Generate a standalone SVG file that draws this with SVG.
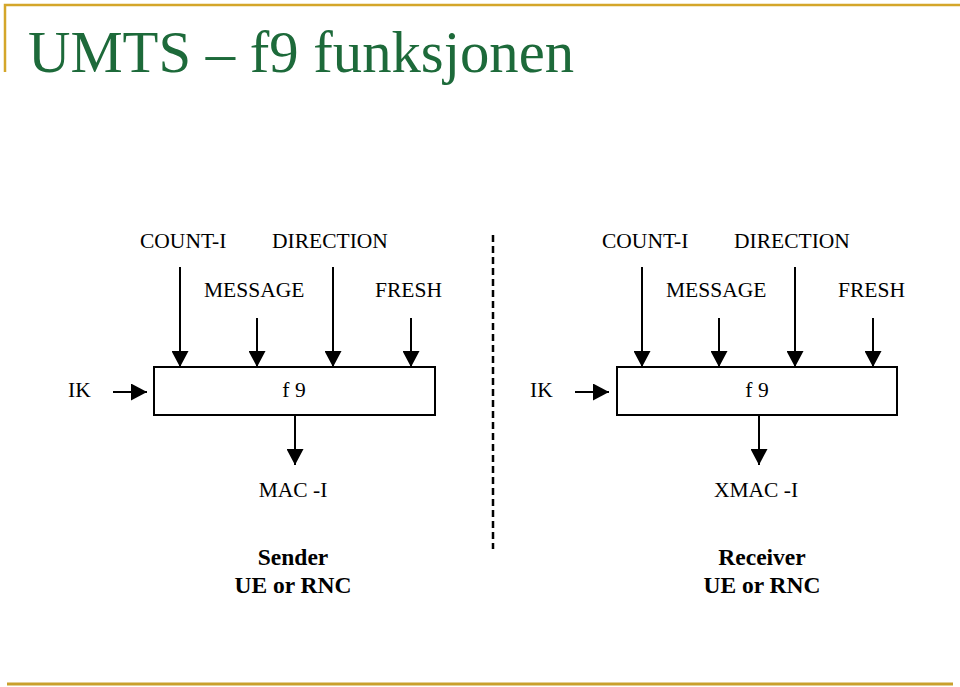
<svg xmlns="http://www.w3.org/2000/svg" width="960" height="687" viewBox="0 0 960 687">
<style>
.t{font-family:"Liberation Serif","Times New Roman",serif;font-size:21.5px;fill:#000}
.b{font-family:"Liberation Serif","Times New Roman",serif;font-size:23.5px;font-weight:bold;fill:#000}
.c{text-anchor:middle}
.ln{stroke:#000;stroke-width:2;fill:none}
.box{fill:#fff;stroke:#000;stroke-width:2}
</style>
<defs>
<marker id="ah" viewBox="0 0 16 17" refX="16" refY="8.5" markerWidth="16" markerHeight="17" markerUnits="userSpaceOnUse" orient="auto"><path d="M0,0L16,8.5L0,17z" fill="#000"/></marker>
</defs>
<rect width="960" height="687" fill="#fff"/>
<g id="frame">
<path d="M5,72V5H960" fill="none" stroke="#d4a62a" stroke-width="2.5"/>
<line x1="7" y1="684" x2="953" y2="684" stroke="#c9a02c" stroke-width="3"/>
</g>
<text id="title" x="28" y="72" font-family="Liberation Serif,Times New Roman,serif" font-size="58.7" fill="#1d6a3a">UMTS – f9 funksjonen</text>
<line id="divider" x1="493" y1="235" x2="493" y2="549" stroke="#000" stroke-width="2.5" stroke-dasharray="7,4"/>
<g id="connectors">
<line class="ln" x1="180" y1="267" x2="180" y2="367" marker-end="url(#ah)"/>
<line class="ln" x1="257" y1="318" x2="257" y2="367" marker-end="url(#ah)"/>
<line class="ln" x1="333" y1="267" x2="333" y2="367" marker-end="url(#ah)"/>
<line class="ln" x1="411" y1="318" x2="411" y2="367" marker-end="url(#ah)"/>
<line class="ln" x1="113" y1="392" x2="147" y2="392" marker-end="url(#ah)"/>
<line class="ln" x1="295" y1="415" x2="295" y2="465" marker-end="url(#ah)"/>
<line class="ln" x1="642" y1="267" x2="642" y2="367" marker-end="url(#ah)"/>
<line class="ln" x1="719" y1="318" x2="719" y2="367" marker-end="url(#ah)"/>
<line class="ln" x1="795" y1="267" x2="795" y2="367" marker-end="url(#ah)"/>
<line class="ln" x1="873" y1="318" x2="873" y2="367" marker-end="url(#ah)"/>
<line class="ln" x1="575" y1="392" x2="609" y2="392" marker-end="url(#ah)"/>
<line class="ln" x1="759" y1="415" x2="759" y2="465" marker-end="url(#ah)"/>
</g>
<g id="sender">
<text class="t" x="140" y="248">COUNT-I</text>
<text class="t" x="272" y="248">DIRECTION</text>
<text class="t" x="204" y="297">MESSAGE</text>
<text class="t" x="375" y="297">FRESH</text>
<text class="t" x="68" y="397">IK</text>
<g id="f9-sender"><rect class="box" x="154" y="367" width="281" height="48"/><text class="t c" x="294" y="397">f 9</text></g>
<text class="t c" x="293" y="497">MAC -I</text>
<text class="b c" x="293" y="565">Sender</text>
<text class="b c" x="293" y="593">UE or RNC</text>
</g>
<g id="receiver">
<text class="t" x="602" y="248">COUNT-I</text>
<text class="t" x="734" y="248">DIRECTION</text>
<text class="t" x="666" y="297">MESSAGE</text>
<text class="t" x="838" y="297">FRESH</text>
<text class="t" x="530" y="397">IK</text>
<g id="f9-receiver"><rect class="box" x="617" y="367" width="280" height="48"/><text class="t c" x="757" y="397">f 9</text></g>
<text class="t c" x="756" y="497">XMAC -I</text>
<text class="b c" x="762" y="565">Receiver</text>
<text class="b c" x="762" y="593">UE or RNC</text>
</g>
</svg>
